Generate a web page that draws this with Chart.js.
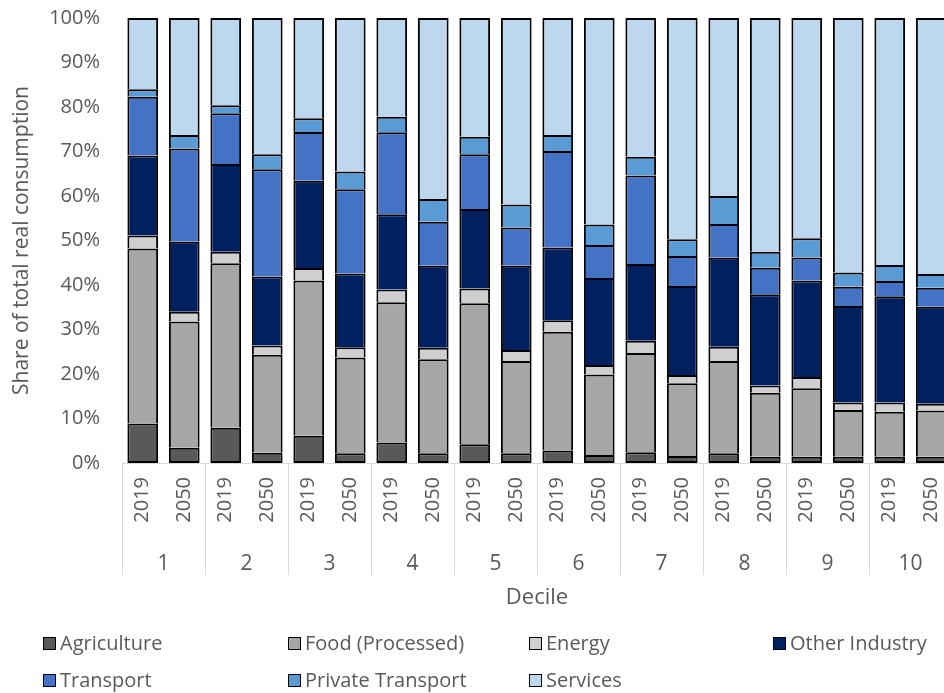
<!DOCTYPE html>
<html>
<head>
<meta charset="utf-8">
<title>Share of total real consumption by decile</title>
<script src="https://cdn.jsdelivr.net/npm/chart.js@4"></script>
<style>
  html, body { margin: 0; padding: 0; background: #fff; overflow: hidden; }
  body { width: 944px; height: 693px; position: relative; font-family: 'Open Sans', sans-serif; }
  #myChart { position: absolute; left: 0; top: 0; }
  #legend { position: absolute; left: 0; top: 0; width: 944px; height: 693px; pointer-events: none; }
  .item { position: absolute; display: flex; align-items: center; font-size: 20px; color: #595959; white-space: nowrap; line-height: 1; }
  .swatch { width: 11px; height: 11px; border: 1.5px solid #000; margin-right: 4px; }
</style>
</head>
<body>
<canvas id="myChart" width="960" height="620"></canvas>
<div id="legend"></div>
<script>
const deciles = ['1', '2', '3', '4', '5', '6', '7', '8', '9', '10'];
const years = ['2019', '2050'];

// shares in %, ordered decile 1 2019, decile 1 2050, decile 2 2019, ...
const agriculture = [8.9, 3.4, 7.9, 2.3, 6.1, 2.2, 4.6, 2.2, 4.2, 2.2, 2.8, 1.8, 2.4, 1.6, 2.2, 1.4, 1.4, 1.4, 1.4, 1.4];
const foodProcessed = [39.3, 28.4, 37.0, 22.0, 34.9, 21.5, 31.5, 21.1, 31.7, 20.7, 26.7, 18.1, 22.3, 16.3, 20.7, 14.4, 15.4, 10.5, 10.1, 10.4];
const energy = [2.9, 2.2, 2.6, 2.1, 2.8, 2.3, 2.9, 2.6, 3.3, 2.5, 2.6, 2.1, 2.8, 1.9, 3.2, 1.6, 2.5, 1.7, 2.1, 1.5];
const otherIndustry = [18.0, 15.7, 19.7, 15.5, 19.6, 16.6, 16.9, 18.4, 17.9, 18.9, 16.3, 19.6, 17.2, 20.0, 20.0, 20.5, 21.7, 21.7, 23.9, 21.8];
const transport = [13.2, 21.0, 11.4, 24.1, 11.0, 18.9, 18.4, 9.9, 12.3, 8.6, 21.7, 7.4, 19.9, 6.7, 7.6, 6.0, 5.2, 4.3, 3.4, 4.3];
const privateTransport = [1.7, 3.0, 1.8, 3.4, 3.1, 4.0, 3.5, 5.1, 3.9, 5.2, 3.6, 4.6, 4.2, 3.8, 6.3, 3.6, 4.3, 3.2, 3.6, 3.1];
const services = [16.0, 26.3, 19.6, 30.6, 22.5, 34.5, 22.2, 40.7, 26.7, 41.9, 26.3, 46.4, 31.2, 49.7, 40.0, 52.5, 49.5, 57.2, 55.5, 57.5];

const labels = deciles.flatMap(() => years);
const textColor = '#595959';
const font = 'Open Sans';

const series = [
  {label: 'Agriculture', data: agriculture, color: '#595959'},
  {label: 'Food (Processed)', data: foodProcessed, color: '#a6a6a6'},
  {label: 'Energy', data: energy, color: '#d0cece'},
  {label: 'Other Industry', data: otherIndustry, color: '#002060'},
  {label: 'Transport', data: transport, color: '#4472c4'},
  {label: 'Private Transport', data: privateTransport, color: '#5b9bd5'},
  {label: 'Services', data: services, color: '#bdd7ee'}
];

// axis line plus the light separators between decile groups
const groupLines = {
  id: 'groupLines',
  beforeDatasetsDraw(chart) {
    const {ctx, chartArea, scales: {x, x2}} = chart;
    const step = x.getPixelForValue(1) - x.getPixelForValue(0);
    ctx.save();
    ctx.strokeStyle = '#d9d9d9';
    ctx.lineWidth = 1;
    ctx.beginPath();
    ctx.moveTo(chartArea.left, chartArea.bottom + 0.5);
    ctx.lineTo(chartArea.right, chartArea.bottom + 0.5);
    for (let i = 0; i <= deciles.length; i++) {
      const px = Math.round(x.getPixelForValue(i * years.length) - step / 2) + 0.5;
      ctx.moveTo(px, chartArea.bottom);
      ctx.lineTo(px, x2.top + 32);
    }
    ctx.stroke();
    ctx.restore();
  }
};

const ctx = document.getElementById('myChart');
const chart = new Chart(ctx, {
  type: 'bar',
  data: {
    labels,
    datasets: series.map((s, i) => ({
      label: s.label,
      data: s.data,
      backgroundColor: s.color,
      borderColor: '#000',
      borderWidth: 2,
      // only the bottom segment keeps its base edge, so shared edges stay single
      borderSkipped: i === 0 ? false : 'start',
      barPercentage: 0.74,
      categoryPercentage: 1
    }))
  },
  options: {
    responsive: false,
    animation: false,
    layout: {padding: {left: 0, right: 8, top: 18, bottom: 5}},
    plugins: {
      legend: {display: false},
      tooltip: {enabled: false}
    },
    scales: {
      x: {
        stacked: true,
        weight: 0,
        grid: {display: false, drawTicks: false},
        border: {display: false},
        ticks: {
          autoSkip: false, minRotation: 90, maxRotation: 90,
          color: textColor, font: {family: font, size: 20}, padding: 14
        },
        afterFit(s) { s.height = 80; s.paddingLeft = 0; s.paddingRight = 0; }
      },
      x2: {
        type: 'category',
        labels: deciles,
        position: 'bottom',
        offset: true,
        weight: 1,
        grid: {display: false, drawTicks: false},
        border: {display: false},
        ticks: {color: textColor, font: {family: font, size: 21}, padding: 8},
        title: {
          display: true, text: 'Decile', color: textColor,
          font: {family: font, size: 22}, padding: {top: 4, bottom: 4}
        },
        afterFit(s) { s.height = 72; s.paddingLeft = 0; s.paddingRight = 0; }
      },
      y: {
        stacked: true,
        min: 0,
        max: 100,
        grid: {display: false, drawTicks: false},
        border: {display: false},
        ticks: {
          stepSize: 10, callback: v => v + '%',
          color: textColor, font: {family: font, size: 20}, padding: 22
        },
        title: {
          display: true, text: 'Share of total real consumption', color: textColor,
          font: {family: font, size: 21}, padding: {top: 9, bottom: 0}
        },
        afterFit(s) { s.width = 122; s.paddingTop = 0; s.paddingBottom = 0; }
      }
    }
  },
  plugins: [groupLines]
});

// legend laid out in four columns below the chart
const legendSlots = [[43, 643], [288, 643], [529, 643], [773, 643], [43, 680], [288, 680], [529, 680]];
const legend = document.getElementById('legend');
chart.data.datasets.forEach((ds, i) => {
  const item = document.createElement('div');
  item.className = 'item';
  item.style.left = legendSlots[i][0] + 'px';
  item.style.top = (legendSlots[i][1] - 12) + 'px';
  item.style.height = '24px';
  const sw = document.createElement('span');
  sw.className = 'swatch';
  sw.style.background = ds.backgroundColor;
  item.appendChild(sw);
  item.appendChild(document.createTextNode(ds.label));
  legend.appendChild(item);
});
</script>
</body>
</html>
